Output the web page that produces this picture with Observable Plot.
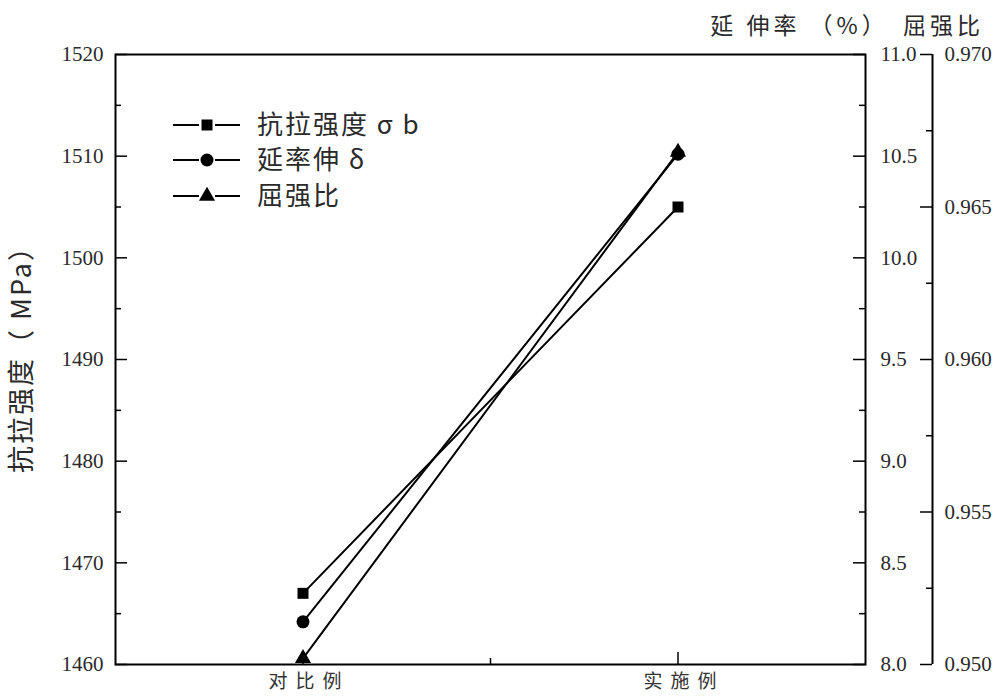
<!DOCTYPE html>
<html>
<head>
<meta charset="utf-8">
<script src="https://cdn.jsdelivr.net/npm/d3@7"></script>
<script src="https://cdn.jsdelivr.net/npm/@observablehq/plot@0.6"></script>
<style>
  html, body { margin: 0; padding: 0; background: #fff; }
  #chart svg { display: block; }
  g[aria-label="x-axis tick label"] text { letter-spacing: 8px; }
  .cjk-title { letter-spacing: 4px; }
  .cjk-ylabel { letter-spacing: 2px; }
</style>
</head>
<body>
<div id="chart"></div>
<script>
// ---- data ----
const categories = ["对比例", "实施例"];
const tensile = [1467, 1505];          // 抗拉强度 (MPa)
const elongation = [8.21, 10.51];      // 延伸率 (%)
const yieldRatio = [0.9502, 0.9668];   // 屈强比
const tensileTicks = [1460, 1470, 1480, 1490, 1500, 1510, 1520];
const tensileMinor = [1465, 1475, 1485, 1495, 1505, 1515];
const elongTicks = [8.0, 8.5, 9.0, 9.5, 10.0, 10.5, 11.0];
const elongMinor = [8.25, 8.75, 9.25, 9.75, 10.25, 10.75];
const ratioTicks = [0.950, 0.955, 0.960, 0.965, 0.970];
const ratioMinor = [0.9525, 0.9575, 0.9625, 0.9675];
const seriesNames = ["抗拉强度 σ b", "延率伸 δ", "屈强比"];

// map secondary axes onto the primary (tensile) scale
const eToT = e => 1460 + (e - 8) * 20;
const tToE = t => (t - 1460) / 20 + 8;
const rToT = r => 1460 + (r - 0.95) * 3000;
const tToR = t => (t - 1460) / 3000 + 0.95;

const rows = categories.map((c, i) => ({
  x: i + 1, t: tensile[i], e: eToT(elongation[i]), r: rToT(yieldRatio[i])
}));

const W = 1000, H = 700, ML = 115, MR = 135, MT = 54, MB = 36;
const PW = W - ML - MR, PH = H - MT - MB;
const AX2 = 67; // offset of second right axis
const numFont = "'Liberation Serif', 'Times New Roman', serif";
const cjkFont = "'Noto Sans CJK SC', 'Liberation Serif', serif";
const txt = "#2a2a2a";
const numStyle = { fontSize: 21, fontFamily: numFont, fill: txt };

const chart = Plot.plot({
  width: W, height: H,
  marginLeft: ML, marginRight: MR, marginTop: MT, marginBottom: MB,
  style: { fontFamily: numFont, fontSize: "21px", color: txt, background: "#fff", overflow: "visible" },
  x: { domain: [0.5, 2.5], axis: null },
  y: { domain: [1460, 1520], axis: null },
  marks: [
    Plot.frame({ stroke: "#000", strokeWidth: 2 }),
    // left axis
    Plot.tickY(tensileTicks, { y: d => d, insetRight: PW - 12, stroke: "#000", strokeWidth: 1.5 }),
    Plot.tickY(tensileMinor, { y: d => d, insetRight: PW - 6, stroke: "#000", strokeWidth: 1.5 }),
    Plot.axisY(tensileTicks, { anchor: "left", tickSize: 0, tickPadding: 12, label: null,
      tickFormat: d => String(d), ...numStyle }),
    // right axis 1 (elongation)
    Plot.tickY(elongTicks.map(eToT), { y: d => d, insetLeft: PW - 12, stroke: "#000", strokeWidth: 1.5 }),
    Plot.tickY(elongMinor.map(eToT), { y: d => d, insetLeft: PW - 6, stroke: "#000", strokeWidth: 1.5 }),
    Plot.axisY(elongTicks.map(eToT), { anchor: "right", tickSize: 0, tickPadding: 15, label: null,
      tickFormat: t => tToE(t).toFixed(1), ...numStyle }),
    // right axis 2 (yield ratio)
    Plot.ruleX([2.5], { dx: AX2, stroke: "#000", strokeWidth: 2 }),
    Plot.tickY(ratioTicks.map(rToT), { y: d => d, insetLeft: PW - 12, dx: AX2, stroke: "#000", strokeWidth: 1.5 }),
    Plot.tickY(ratioMinor.map(rToT), { y: d => d, insetLeft: PW - 6, dx: AX2, stroke: "#000", strokeWidth: 1.5 }),
    Plot.axisY(ratioTicks.map(rToT), { anchor: "right", tickSize: 0, tickPadding: 12, dx: AX2, label: null,
      tickFormat: t => tToR(t).toFixed(3), ...numStyle }),
    // bottom axis
    Plot.tickX([1, 2], { x: d => d, insetTop: PH - 12, stroke: "#000", strokeWidth: 1.5 }),
    Plot.tickX([1.5], { x: d => d, insetTop: PH - 6, stroke: "#000", strokeWidth: 1.5 }),
    Plot.axisX([1, 2], { anchor: "bottom", tickSize: 0, tickPadding: 10, label: null, dx: 6,
      tickFormat: d => categories[d - 1], fontSize: 19, fontFamily: cjkFont, fill: "#333" }),
    // series
    Plot.line(rows, { x: "x", y: "t", stroke: "#000", strokeWidth: 2 }),
    Plot.line(rows, { x: "x", y: "e", stroke: "#000", strokeWidth: 2 }),
    Plot.line(rows, { x: "x", y: "r", stroke: "#000", strokeWidth: 2 }),
    Plot.dot(rows, { x: "x", y: "t", symbol: "square", fill: "#000", r: 6.2 }),
    Plot.dot(rows, { x: "x", y: "e", symbol: "circle", fill: "#000", r: 6.5 }),
    Plot.dot(rows, { x: "x", y: "r", symbol: "triangle", fill: "#000", r: 6 }),
    // axis titles
    Plot.text(["抗拉强度（ MPa）"], { text: d => d, frameAnchor: "left", textAnchor: "middle",
      dx: -93, dy: -7, rotate: -90, fontSize: 27, fontFamily: cjkFont, fill: txt, className: "cjk-ylabel" }),
    Plot.text(["延 伸率 （%）"], { text: d => d, frameAnchor: "top-right", textAnchor: "middle",
      dx: -66, dy: -37, fontSize: 23, fontFamily: cjkFont, fill: txt, className: "cjk-title" }),
    Plot.text(["屈强比"], { text: d => d, frameAnchor: "top-right", textAnchor: "middle",
      dx: 78, dy: -37, fontSize: 23, fontFamily: cjkFont, fill: txt, className: "cjk-title" })
  ]
});

// legend
const svg = d3.select(chart);
const leg = svg.append("g").attr("aria-label", "legend");
const legY = [125, 160, 196];
seriesNames.forEach((name, i) => {
  const y = legY[i];
  leg.append("line").attr("x1", 173).attr("x2", 199).attr("y1", y).attr("y2", y)
    .attr("stroke", "#000").attr("stroke-width", 2);
  leg.append("line").attr("x1", 215).attr("x2", 240).attr("y1", y).attr("y2", y)
    .attr("stroke", "#000").attr("stroke-width", 2);
  const sym = d3.symbol().type(i === 0 ? d3.symbolSquare : i === 1 ? d3.symbolCircle : d3.symbolTriangle)
    .size(i === 0 ? 121 : i === 1 ? 133 : 113);
  leg.append("path").attr("d", sym()).attr("transform", `translate(207,${y})`).attr("fill", "#000");
  leg.append("text").attr("x", 257).attr("y", y).attr("dy", "0.35em")
    .attr("text-anchor", "start").attr("letter-spacing", "2px")
    .attr("font-family", cjkFont).attr("font-size", 26).attr("fill", txt).text(name);
});

document.getElementById("chart").appendChild(chart);
</script>
</body>
</html>
